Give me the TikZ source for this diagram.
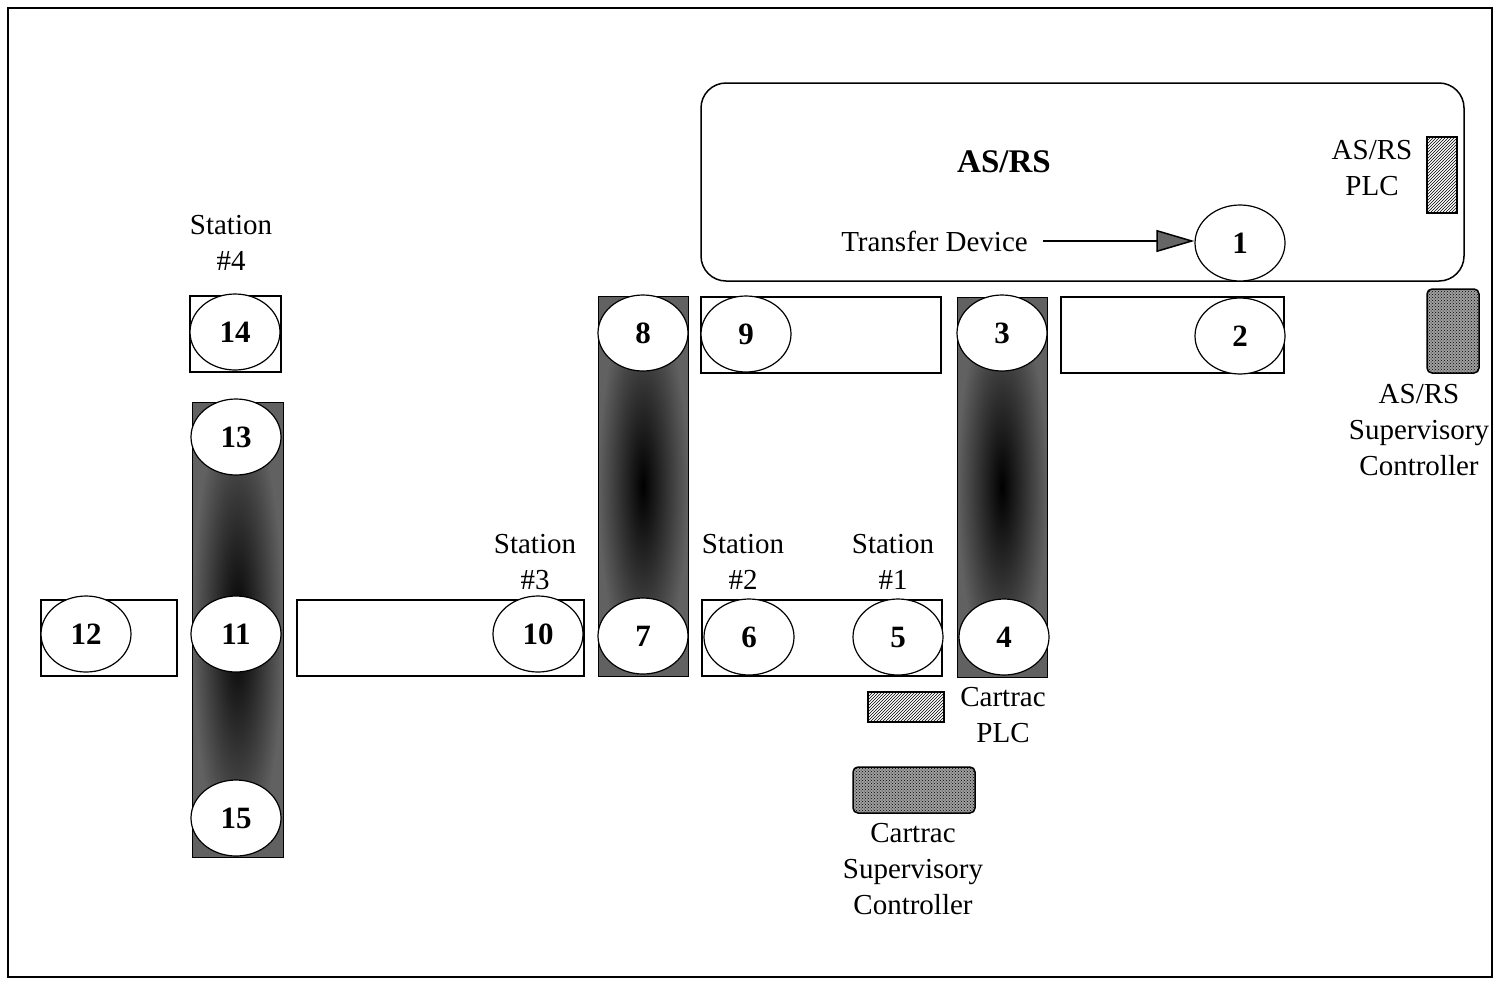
\documentclass[tikz,border=0pt]{standalone}
\usepackage{fontspec}
\setmainfont{Liberation Serif}
\usetikzlibrary{shapes.geometric,patterns,arrows.meta}
\begin{document}
\begin{tikzpicture}[x=1pt,y=-1pt,
  lbl/.style={align=center,font=\fontsize{29}{36}\selectfont,inner sep=0pt},
  num/.style={ellipse,draw,line width=1.2pt,fill=white,minimum width=90pt,minimum height=76pt,inner sep=0pt,font=\fontsize{31}{32}\selectfont\bfseries},
  belt/.style={draw,line width=1.2pt,fill=white,rectangle,inner sep=0pt},
  dark/.style={draw,line width=0.8pt,inner color=black,outer color=black!62,rectangle,inner sep=0pt},
  hatch/.style={draw,line width=1.2pt,preaction={fill=white},pattern=north east lines,inner sep=0pt},
  xhatch/.style={draw,line width=1.5pt,rounded corners=5pt,preaction={fill=gray!75},pattern=crosshatch dots,inner sep=0pt}
]
\useasboundingbox (0,0) rectangle (1495,980);
\draw[line width=1.2pt] (8,8) rectangle (1492,977);

% AS/RS enclosure
\draw[line width=1.5pt,rounded corners=25pt] (701,83) rectangle (1464,281);
\node[lbl,font=\fontsize{33}{36}\selectfont\bfseries] (asrs) at (1004,162) {AS/RS};
\node[lbl] (asrsplc) at (1372,168) {AS/RS\\PLC};
\node[hatch,minimum width=30pt,minimum height=76pt] (plcbox) at (1442,175) {};
\node[lbl,anchor=east] (td) at (1028,241) {Transfer Device};
\node[num] (n1) at (1240,243) {1};
\coordinate (tdstart) at (1043,241);
\draw[line width=1.5pt,-{Triangle[length=38pt,width=22pt,fill=gray!80!black]}] (tdstart) -- (tdstart -| n1.west);

% AS/RS supervisory
\node[xhatch,minimum width=52pt,minimum height=84pt] (asup) at (1453,331) {};
\node[lbl] (asupl) at (1419,430) {AS/RS\\Supervisory\\Controller};

% belts
\node[belt,minimum width=223pt,minimum height=76pt] (b2) at (1172.5,335) {};
\node[num] (n2) at (1240,336) {2};

\node[dark,minimum width=90pt,minimum height=380pt] (c34) at (1002,487) {};
\node[num] (n3) at (1002,333) {3};
\node[num] (n4) at (1004,637) {4};

\node[belt,minimum width=240pt,minimum height=76pt] (b9) at (821,335) {};
\node[num] (n9) at (746,334) {9};

\node[dark,minimum width=90pt,minimum height=380pt] (c78) at (643,486) {};
\node[num] (n8) at (643,333) {8};
\node[num] (n7) at (643,636) {7};

\node[belt,minimum width=240pt,minimum height=76pt] (b56) at (822,638) {};
\node[num] (n6) at (749,637) {6};
\node[num] (n5) at (898,637) {5};

\node[belt,minimum width=287pt,minimum height=76pt] (b10) at (440.5,638) {};
\node[num] (n10) at (538,634) {10};

\node[dark,minimum width=91pt,minimum height=455pt] (c1115) at (237.5,629.5) {};
\node[num] (n13) at (236,437) {13};
\node[num] (n11) at (236,634) {11};
\node[num] (n15) at (236,818) {15};

\node[belt,minimum width=136pt,minimum height=76pt] (b12) at (109,638) {};
\node[num] (n12) at (86,634) {12};

\node[belt,minimum width=91pt,minimum height=76pt] (b14) at (235.5,334) {};
\node[num] (n14) at (235,332) {14};

% station labels
\node[lbl] (s4) at (231,243) {Station\\\#4};
\node[lbl] (s3) at (535,562) {Station\\\#3};
\node[lbl] (s2) at (743,562) {Station\\\#2};
\node[lbl] (s1) at (893,562) {Station\\\#1};

% Cartrac PLC
\node[hatch,minimum width=76pt,minimum height=30pt] (cplc) at (906,707) {};
\node[lbl] (cplcl) at (1003,715) {Cartrac\\PLC};

% Cartrac supervisory
\node[xhatch,minimum width=122pt,minimum height=46pt] (csup) at (914,790) {};
\node[lbl] (csupl) at (913,869) {Cartrac\\Supervisory\\Controller};
\end{tikzpicture}
\end{document}
